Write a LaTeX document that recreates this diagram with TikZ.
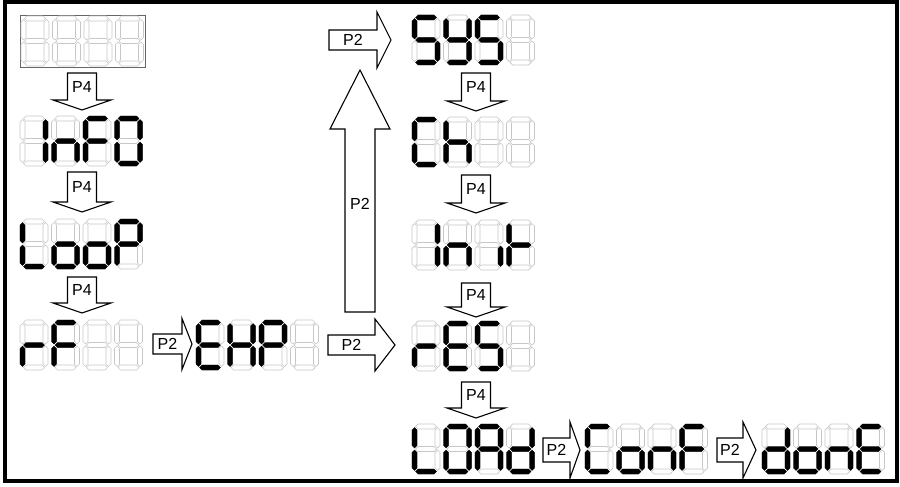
\documentclass[tikz,border=0pt]{standalone}
\usepackage{fontspec}
\setmainfont{Liberation Sans}

% one segment of a seven-segment digit (cell is 28 x 50)
\newcommand{\hsegment}[4]{% style, x1, x2, y
  \path[#1] (#2,#4) -- (#2+2.5,#4-2.5) -- (#3-2.5,#4-2.5) -- (#3,#4)
    -- (#3-2.5,#4+2.5) -- (#2+2.5,#4+2.5) -- cycle;}
\newcommand{\vsegment}[4]{% style, x, y1, y2
  \path[#1] (#2,#3) -- (#2+2.5,#3+2.5) -- (#2+2.5,#4-2.5) -- (#2,#4)
    -- (#2-2.5,#4-2.5) -- (#2-2.5,#3+2.5) -- cycle;}
\newcommand{\dsega}[1]{\hsegment{#1}{3.5}{24.5}{2.5}}
\newcommand{\dsegb}[1]{\vsegment{#1}{25.5}{3.5}{24}}
\newcommand{\dsegc}[1]{\vsegment{#1}{25.5}{26}{46.5}}
\newcommand{\dsegd}[1]{\hsegment{#1}{3.5}{24.5}{47.5}}
\newcommand{\dsege}[1]{\vsegment{#1}{2.5}{26}{46.5}}
\newcommand{\dsegf}[1]{\vsegment{#1}{2.5}{3.5}{24}}
\newcommand{\dsegg}[1]{\hsegment{#1}{3.5}{24.5}{25}}
\newcommand{\dsegnone}[1]{}

\newcommand{\digitcell}[3]{% x, y, lit segments
  \begin{scope}[shift={(#1,#2)}]
    \foreach \s in {a,b,c,d,e,f,g} {\csname dseg\s\endcsname{seg off}}
    \foreach \s in {#3} {\csname dseg\s\endcsname{seg on}}
  \end{scope}}
\newcommand{\display}[6]{% x, y, four digits
  \digitcell{#1}{#2}{#3}\digitcell{#1+31.5}{#2}{#4}%
  \digitcell{#1+63}{#2}{#5}\digitcell{#1+94.5}{#2}{#6}}

% key arrows
\newcommand{\keydown}[5]{% name, centre x, top y, tip y, label
  \draw[keyarrow] (#2-14.5,#3) -- (#2+14.5,#3) -- (#2+14.5,#4-10) -- (#2+29,#4-10)
    -- (#2,#4) -- (#2-29,#4-10) -- (#2-14.5,#4-10) -- cycle;
  \node[keylbl] (#1) at (#2,{(#3+#4-10)/2}) {#5};}
\newcommand{\keyright}[8]{% name, box x1, head x, tip x, centre y, box half, head half, label
  \draw[keyarrow] (#2,#5-#6) -- (#3,#5-#6) -- (#3,#5-#7) -- (#4,#5)
    -- (#3,#5+#7) -- (#3,#5+#6) -- (#2,#5+#6) -- cycle;
  \node[keylbl] (#1) at ({(#2+#3)/2},#5) {#8};}

\begin{document}
\begin{tikzpicture}[x=1pt, y=-1pt,
    seg off/.style={draw=black!22, line width=0.7pt},
    seg on/.style={fill=black, draw=black, line width=0.3pt},
    frame/.style={draw=black!60, line width=0.8pt},
    keyarrow/.style={draw=black, fill=white, line width=1.1pt, line join=miter},
    keylbl/.style={font=\fontsize{16}{18}\selectfont, inner sep=0pt}]

    \useasboundingbox (0,0) rectangle (900,487);
    \draw[line width=4pt] (5,2) rectangle (897,481);

    % left column
    \draw[frame] (20,15) rectangle (145,67);
    \display{21}{16}{none}{none}{none}{none}
    \display{20}{116}{b,c}{c,e,g}{a,e,f,g}{a,b,c,d,e,f}
    \display{20}{219}{d,e,f}{c,d,e,g}{c,d,e,g}{a,b,e,f,g}
    \display{20}{320}{e,g}{a,e,f,g}{none}{none}
    \display{196}{320}{a,d,e,f,g}{b,c,e,f,g}{a,b,e,f,g}{none}

    % right column
    \display{412}{15}{a,c,d,f,g}{b,c,d,f,g}{a,c,d,f,g}{none}
    \display{412}{117}{a,d,e,f}{c,e,f,g}{none}{none}
    \display{412}{220}{b,c}{c,e,g}{c}{e,f,g}
    \display{412}{321}{e,g}{a,d,e,f,g}{a,c,d,f,g}{none}
    \display{412}{424}{d,e,f}{a,b,c,d,e,f}{a,b,c,e,f,g}{b,c,d,e,g}
    \display{585}{424}{a,d,e,f}{c,d,e,g}{c,e,g}{a,e,f,g}
    \display{762}{424}{b,c,d,e,g}{c,d,e,g}{c,e,g}{a,d,e,f,g}

    % P4 steps
    \keydown{dn1}{82}{73}{110}{P4}
    \keydown{dn2}{82}{172}{212}{P4}
    \keydown{dn3}{82}{277}{313}{P4}
    \keydown{dn4}{476}{73}{111}{P4}
    \keydown{dn5}{476}{175}{213}{P4}
    \keydown{dn6}{476}{283}{317}{P4}
    \keydown{dn7}{476}{382}{418}{P4}

    % P2 steps
    \keyright{rt1}{153}{182}{192}{344}{10}{25.5}{P2}
    \keyright{rt2}{328}{375}{395}{345}{10}{26}{P2}
    \keyright{rt3}{329}{377}{391}{40}{10}{28}{P2}
    \keyright{rt4}{543}{570}{580}{450}{12}{28}{P2}
    \keyright{rt5}{717}{743}{756}{450}{12}{28}{P2}
    \draw[keyarrow] (345,312) -- (345,129) -- (330,129) -- (360,70)
      -- (390,129) -- (375,129) -- (375,312) -- cycle;
    \node[keylbl] (up) at (360,204) {P2};
\end{tikzpicture}
\end{document}
